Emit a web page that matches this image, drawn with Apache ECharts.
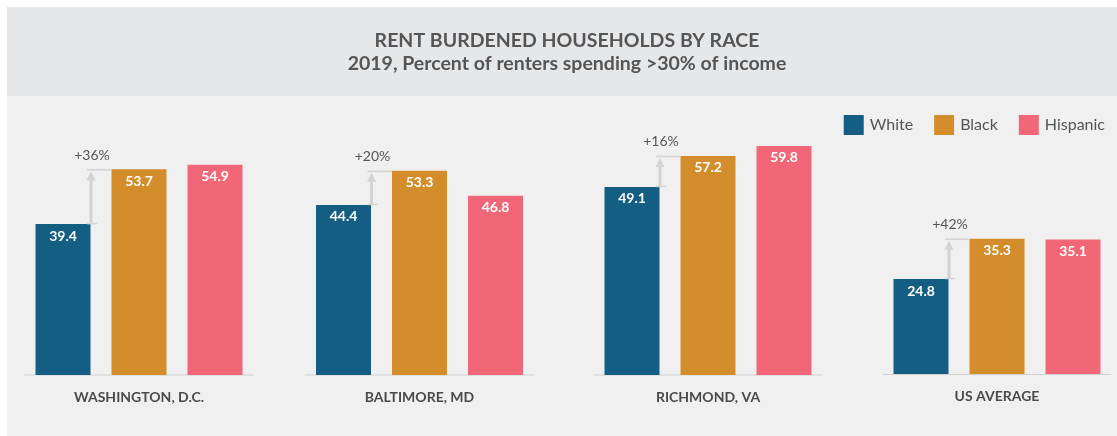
<!DOCTYPE html>
<html>
<head>
<meta charset="utf-8">
<script src="https://cdn.jsdelivr.net/npm/echarts@6/dist/echarts.min.js"></script>
<style>
  html, body { margin: 0; padding: 0; background: #ffffff; }
  #chart { width: 1117px; height: 436px; }
</style>
</head>
<body>
<div id="chart"></div>
<script>
// values
const cities = ['WASHINGTON, D.C.', 'BALTIMORE, MD', 'RICHMOND, VA', 'US AVERAGE']
const races = ['White', 'Black', 'Hispanic']
const white = [39.4, 44.4, 49.1, 24.8]
const black = [53.7, 53.3, 57.2, 35.3]
const hispanic = [54.9, 46.8, 59.8, 35.1]

const colors = ['#155e83', '#d38d2a', '#f16778']
const textColor = '#555555'
const font = 'Lato, "Noto Sans", sans-serif'

// one small grid per city
const gridLeft = [25, 305.5, 594, 883]
const gridBase = [375, 375, 375, 374]
const yMax = 70
const pxPerUnit = 3.83
const barW = 55
const gap = 21

const chart = echarts.init(document.getElementById('chart'))

const grids = [], xAxes = [], yAxes = [], series = []
const byRace = [white, black, hispanic]

cities.forEach((city, i) => {
  const h = yMax * pxPerUnit
  grids.push({ left: gridLeft[i], width: 228, top: gridBase[i] - h, height: h })
  const isUS = i === 3
  xAxes.push({
    gridIndex: i,
    type: 'category',
    data: [city],
    axisTick: { show: false },
    axisLine: { lineStyle: { color: isUS ? '#cfcfcf' : '#e0e0e0', width: isUS ? 1 : 2 } },
    axisLabel: { color: '#4a4a4a', fontFamily: font, fontWeight: 'bold', fontSize: 14, margin: 15 }
  })
  yAxes.push({ gridIndex: i, type: 'value', min: 0, max: yMax, show: false, splitLine: { show: false } })

  races.forEach((race, r) => {
    series.push({
      type: 'bar',
      name: race,
      xAxisIndex: i,
      yAxisIndex: i,
      data: [byRace[r][i]],
      barWidth: barW,
      barGap: (gap / barW * 100) + '%',
      itemStyle: { color: colors[r] },
      label: {
        show: true,
        position: 'insideTop',
        distance: 5,
        color: '#ffffff',
        fontFamily: font,
        fontWeight: 'bold',
        fontSize: 14,
        formatter: p => p.value.toFixed(1)
      },
      z: 3
    })
  })

  // gap arrow from the white bar up to the black bar
  series.push({
    type: 'custom',
    xAxisIndex: i,
    yAxisIndex: i,
    silent: true,
    z: 4,
    data: [[0, white[i], black[i]]],
    encode: { x: 0, y: [1, 2] },
    renderItem: (params, api) => {
      const lo = api.coord([api.value(0), api.value(1)])
      const hi = api.coord([api.value(0), api.value(2)])
      const cx = lo[0]
      const x = cx - barW / 2 - gap + 0.5
      const blackLeft = cx - barW / 2
      const pct = Math.round((api.value(2) / api.value(1) - 1) * 100)
      const stroke = '#d3d3d3'
      return {
        type: 'group',
        children: [
          { type: 'line', shape: { x1: x, y1: lo[1], x2: x, y2: hi[1] + 8 }, style: { stroke, lineWidth: 3 } },
          { type: 'line', shape: { x1: x - 4, y1: hi[1] + 0.5, x2: blackLeft, y2: hi[1] + 0.5 }, style: { stroke, lineWidth: 1.5 } },
          { type: 'line', shape: { x1: x - 4, y1: lo[1] - 0.5, x2: x + 6, y2: lo[1] - 0.5 }, style: { stroke, lineWidth: 1.5 } },
          { type: 'polygon', shape: { points: [[x, hi[1] + 2], [x - 4.5, hi[1] + 11], [x + 4.5, hi[1] + 11]] }, style: { fill: stroke } },
          {
            type: 'text',
            style: {
              text: '+' + pct + '%',
              x: x + 1,
              y: hi[1] - 14,
              align: 'center',
              verticalAlign: 'middle',
              fill: textColor,
              fontFamily: font,
              fontSize: 14
            }
          }
        ]
      }
    }
  })
})

const option = {
  backgroundColor: '#ffffff',
  animation: false,
  graphic: [
    { type: 'rect', z: -10, shape: { x: 7, y: 7, width: 1110, height: 89 }, style: { fill: '#e6e7e9' } },
    { type: 'rect', z: -10, shape: { x: 7, y: 96, width: 1110, height: 340 }, style: { fill: '#f0f0f0' } }
  ],
  title: {
    text: 'RENT BURDENED HOUSEHOLDS BY RACE',
    subtext: '2019, Percent of renters spending >30% of income',
    left: 567,
    textAlign: 'center',
    top: 30,
    padding: 0,
    itemGap: 2,
    textStyle: { color: textColor, fontFamily: font, fontWeight: 'bold', fontSize: 19.5, lineHeight: 21 },
    subtextStyle: { color: textColor, fontFamily: font, fontWeight: 'bold', fontSize: 19.5, lineHeight: 21 }
  },
  legend: {
    data: races,
    right: 12,
    top: 115,
    padding: 0,
    itemWidth: 20,
    itemHeight: 20,
    itemGap: 21,
    icon: 'rect',
    textStyle: { color: textColor, fontFamily: font, fontSize: 16, padding: [0, 0, 0, 1] }
  },
  grid: grids,
  xAxis: xAxes,
  yAxis: yAxes,
  series: series
}

chart.setOption(option)
window.addEventListener('resize', () => chart.resize())
</script>
</body>
</html>
